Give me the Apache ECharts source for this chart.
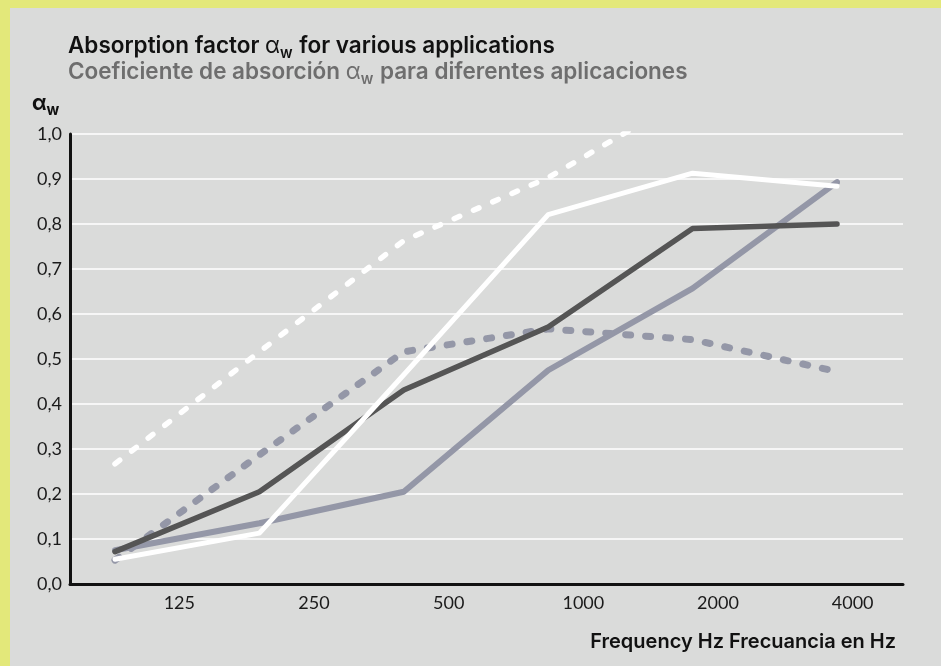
<!DOCTYPE html>
<html><head><meta charset="utf-8">
<script src="https://cdn.jsdelivr.net/npm/echarts@6/dist/echarts.min.js"></script>
<style>html,body{margin:0;padding:0;}#c{width:941px;height:666px;background:#dadbda;box-shadow:inset 10px 8px 0 #e3e87a;}</style>
</head><body><div id="c"></div><script>
const categories = ['125', '250', '500', '1000', '2000', '4000'];
const darkSolid   = [0.072, 0.205, 0.431, 0.571, 0.790, 0.800];
const purpleSolid = [0.075, 0.135, 0.205, 0.475, 0.657, 0.893];
const whiteSolid  = [0.055, 0.113, 0.465, 0.821, 0.913, 0.884];
const whiteDashed = [0.267, 0.516, 0.763, 0.903, 1.090, null];
const grayDashed  = [0.053, 0.287, 0.516, 0.567, 0.543, 0.472];
const yMin = 0, yMax = 1, yStep = 0.1;

const chart = echarts.init(document.getElementById('c'), null, {renderer: 'canvas'});
const fontMain = 'Inter';
const fontTick = 'Lato';

function line(data, color, width, dash) {
  return {
    type: 'line', xAxisIndex: 1, yAxisIndex: 1, data: data,
    symbol: 'none', silent: true, clip: true,
    lineStyle: {color: color, width: width, type: dash || 'solid', cap: 'round', join: 'round'}
  };
}

chart.setOption({
  animation: false,
  textStyle: {fontFamily: fontMain},
  title: [
    {left: 68, top: 33, padding: 0, text: 'Absorption factor {a|α}{s|w} for various applications',
     textStyle: {fontFamily: fontMain, fontSize: 22.5, fontWeight: 600, color: '#111', lineHeight: 26,
       rich: {a: {fontFamily: fontMain, fontSize: 22.5, fontWeight: 400, color: '#111', lineHeight: 26},
              s: {fontFamily: fontMain, fontSize: 15, fontWeight: 600, color: '#111', lineHeight: 14, padding: [14, 1, 0, 0]}}}},
    {left: 68, top: 59, padding: 0, text: 'Coeficiente de absorción {a|α}{s|w} para diferentes aplicaciones',
     textStyle: {fontFamily: fontMain, fontSize: 22.5, fontWeight: 600, color: '#6e6e6e', lineHeight: 26,
       rich: {a: {fontFamily: fontMain, fontSize: 22.5, fontWeight: 400, color: '#6e6e6e', lineHeight: 26},
              s: {fontFamily: fontMain, fontSize: 15, fontWeight: 600, color: '#6e6e6e', lineHeight: 14, padding: [14, 1, 0, 0]}}}},
    {left: 32, top: 92, padding: 0, text: '{a|α}{s|w}',
     textStyle: {rich: {a: {fontFamily: fontMain, fontSize: 21, color: '#111', lineHeight: 24},
                        s: {fontFamily: fontMain, fontSize: 15, fontWeight: 700, color: '#111', lineHeight: 14, padding: [12, 0, 0, 0]}}}},
    {right: 45, top: 632, padding: 0, text: 'Frequency Hz Frecuancia en Hz',
     textStyle: {fontFamily: fontMain, fontSize: 20, fontWeight: 600, color: '#111'}}
  ],
  grid: [
    {left: 70, right: 38, top: 134, bottom: 82},
    {left: 115, right: 104, top: 134, bottom: 82},
    {left: 112, right: 21, top: 134, bottom: 82}
  ],
  xAxis: [
    {gridIndex: 0, type: 'value', min: 0, max: 1, position: 'bottom',
     axisLine: {show: true, lineStyle: {color: '#111', width: 3}},
     axisTick: {show: false}, axisLabel: {show: false}, splitLine: {show: false}},
    {gridIndex: 1, type: 'category', data: categories, boundaryGap: false, show: false},
    {gridIndex: 2, type: 'category', data: categories, boundaryGap: true,
     axisLine: {show: false}, axisTick: {show: false}, splitLine: {show: false},
     axisLabel: {color: '#1a1a1a', fontSize: 18, fontFamily: fontTick, margin: 10}}
  ],
  yAxis: [
    {gridIndex: 0, type: 'value', min: yMin, max: yMax, interval: yStep,
     axisLine: {show: true, lineStyle: {color: '#111', width: 3}},
     axisTick: {show: false},
     axisLabel: {color: '#1a1a1a', fontSize: 18, fontFamily: fontTick, margin: 8,
       formatter: v => v.toFixed(1).replace('.', ',')},
     splitLine: {show: true, lineStyle: {color: '#ffffff', width: 1.5}}},
    {gridIndex: 1, type: 'value', min: yMin, max: yMax, show: false, splitLine: {show: false}},
    {gridIndex: 2, type: 'value', min: yMin, max: yMax, show: false, splitLine: {show: false}}
  ],
  series: [
    line(purpleSolid, '#9497a7', 6),
    line(grayDashed, '#9497a7', 7, [5, 15]),
    line(darkSolid, '#555555', 5.5),
    line(whiteSolid, '#ffffff', 5),
    line(whiteDashed, '#ffffff', 5.5, [6, 15])
  ]
});
</script></body></html>
